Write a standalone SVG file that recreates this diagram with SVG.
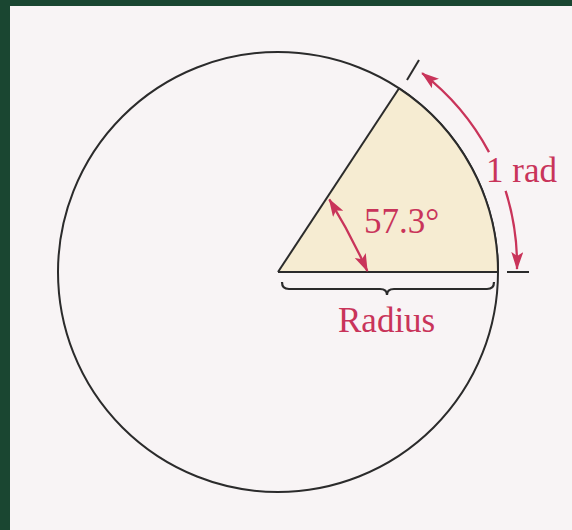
<svg xmlns="http://www.w3.org/2000/svg" width="572" height="530" viewBox="0 0 572 530">
  <style>
    .ink { stroke: #2b2b2b; stroke-width: 2; fill: none; }
    .red { stroke: #c9345a; stroke-width: 2.3; fill: none; }
    .lbl { font-family: "Liberation Serif", "Times New Roman", serif; font-size: 35px; fill: #c9345a; }
  </style>
  <defs>
    <marker id="arrow" viewBox="0 0 18 12" refX="17" refY="6" markerWidth="18" markerHeight="12" markerUnits="userSpaceOnUse" orient="auto">
      <path d="M0,0 L18,6 L0,12 L4,6 Z" fill="#c9345a"/>
    </marker>
    <marker id="arrowStart" viewBox="0 0 18 12" refX="1" refY="6" markerWidth="18" markerHeight="12" markerUnits="userSpaceOnUse" orient="auto">
      <path d="M18,0 L0,6 L18,12 L14,6 Z" fill="#c9345a"/>
    </marker>
  </defs>

  <rect x="0" y="0" width="572" height="530" fill="#1a4631"/>
  <rect x="10" y="6" width="562" height="524" fill="#f8f4f5"/>

  <g id="circle">
    <circle cx="278" cy="272" r="220" class="ink"/>
  </g>

  <g id="sector">
    <path d="M278,272 L498,272 A220,220 0 0 0 399.1,88.3 Z" fill="#f6ecd2" stroke="none"/>
    <line x1="278" y1="272" x2="498" y2="272" class="ink"/>
    <line x1="278" y1="272" x2="399.1" y2="88.3" class="ink"/>
    <path d="M498,272 A220,220 0 0 0 399.1,88.3" class="ink"/>
  </g>

  <g id="ticks">
    <line x1="407" y1="80" x2="419" y2="60" class="ink"/>
    <line x1="507" y1="272" x2="529" y2="272" class="ink"/>
  </g>

  <g id="connectors">
    <path d="M489,152.1 A246,246 0 0 0 422.1,73.1" class="red" marker-end="url(#arrow)"/>
    <path d="M505.6,190.8 A246,246 0 0 1 517,269" class="red" marker-end="url(#arrow)"/>
    <path d="M329.3,199.3 Q350.5,234 367.3,271" class="red" marker-start="url(#arrowStart)" marker-end="url(#arrow)"/>
    <path d="M282,282 Q282,289 289,289 L380,289 Q387,289 387,295 Q387,289 394,289 L487,289 Q494,289 494,282" stroke="#2b2b2b" stroke-width="2.2" fill="none"/>
  </g>

  <g id="labels">
    <text x="364" y="232.5" class="lbl">57.3°</text>
    <text x="486" y="181.5" class="lbl">1 rad</text>
    <text x="338" y="331.5" class="lbl">Radius</text>
  </g>
</svg>
